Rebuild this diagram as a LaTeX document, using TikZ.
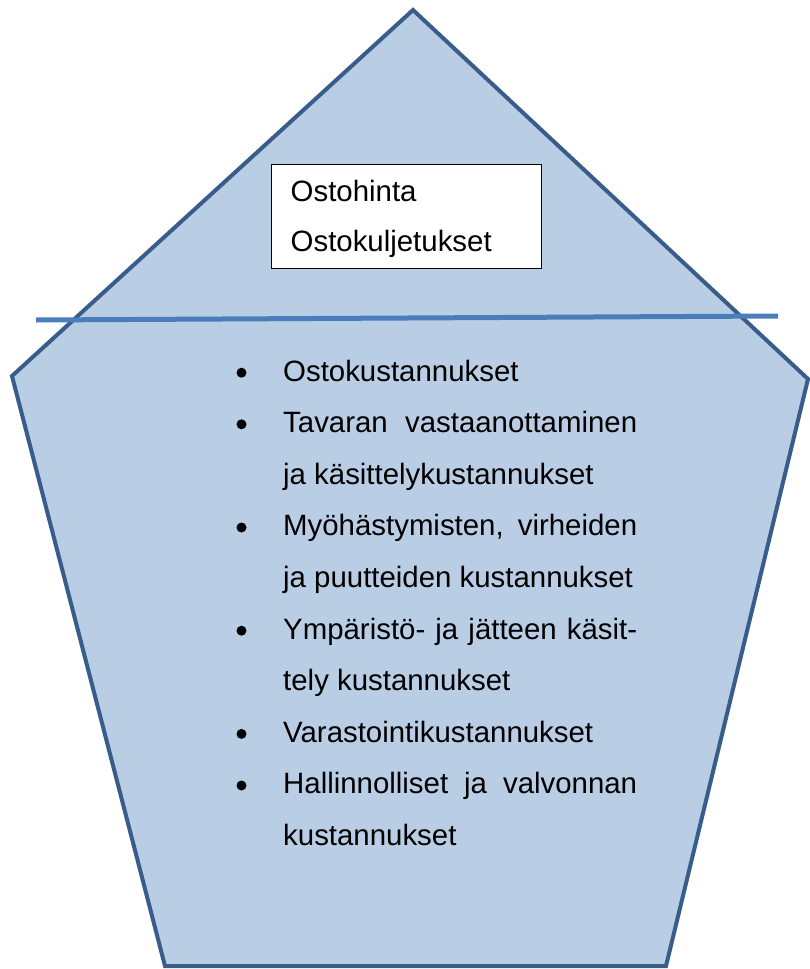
\documentclass[tikz,border=0pt]{standalone}
\usepackage{fontspec}
\setmainfont{Liberation Sans}
\definecolor{penfill}{HTML}{B9CDE5}
\definecolor{penedge}{HTML}{385D8A}
\definecolor{cutline}{HTML}{4A7EBB}
\tikzset{
  txt/.style={anchor=base west, inner sep=0pt, font=\fontsize{29.4}{51.6}\selectfont},
  dot/.style={circle, fill=black, inner sep=0pt, minimum size=10pt},
}
\newcommand{\jline}[1]{\hbox to 354pt{#1}}
\begin{document}
\begin{tikzpicture}[x=1pt, y=-1pt]
  \useasboundingbox (0,0) rectangle (810,969);

  % pentagon
  \draw[penedge, fill=penfill, line width=4pt, line join=miter]
    (413,10) -- (808,379) -- (666,966) -- (165,966) -- (12,376) -- cycle;

  % dividing line
  \coordinate (cl) at (36,320);
  \coordinate (cr) at (778,316);
  \draw[cutline, line width=5pt] (cl) -- (cr);

  % top box
  \node[draw=black, fill=white, line width=1pt, minimum width=270pt, minimum height=104pt,
        inner sep=0pt] (box) at (406.5,216.5) {};
  \node[txt] (t1) at (290.5,201) {Ostohinta};
  \node[txt] (t2) at (290.5,251) {Ostokuljetukset};

  % bullet list
  \node[dot] (b1) at (241.5,372.7) {};
  \node[txt] (l0) at (283,381) {Ostokustannukset};
  \node[dot] (b2) at (241.5,424.3) {};
  \node[txt] (l1) at (283,432.6) {\jline{Tavaran\hfill vastaanottaminen}};
  \node[txt] (l2) at (283,484.2) {ja käsittelykustannukset};
  \node[dot] (b3) at (241.5,527.5) {};
  \node[txt] (l3) at (283,535.8) {\jline{Myöhästymisten,\hfill virheiden}};
  \node[txt] (l4) at (283,587.4) {ja puutteiden kustannukset};
  \node[dot] (b4) at (241.5,630.7) {};
  \node[txt] (l5) at (283,639) {\jline{Ympäristö-\hfill ja\hfill jätteen\hfill käsit-}};
  \node[txt] (l6) at (283,690.6) {tely kustannukset};
  \node[dot] (b5) at (241.5,733.9) {};
  \node[txt] (l7) at (283,742.2) {Varastointikustannukset};
  \node[dot] (b6) at (241.5,785.5) {};
  \node[txt] (l8) at (283,793.8) {\jline{Hallinnolliset\hfill ja\hfill valvonnan}};
  \node[txt] (l9) at (283,845.4) {kustannukset};
\end{tikzpicture}
\end{document}
